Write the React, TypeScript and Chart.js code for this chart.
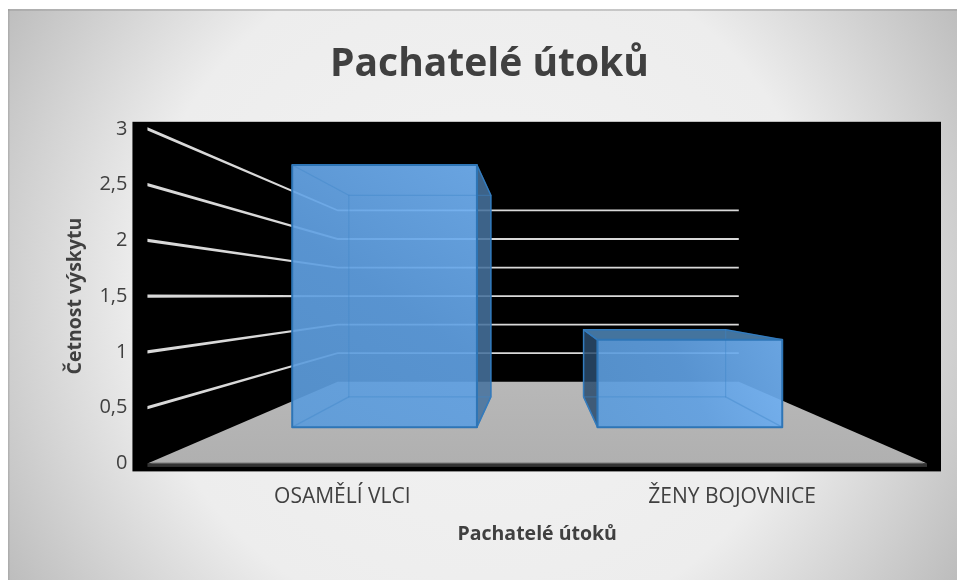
import React, { useEffect, useRef } from "react";
import { Chart, registerables } from "chart.js";

Chart.register(...registerables);

const chartTitle = "Pachatelé útoků";
const xAxisTitle = "Pachatelé útoků";
const yAxisTitle = "Četnost výskytu";
const categories = ["OSAMĚLÍ VLCI", "ŽENY BOJOVNICE"];
const frequency = [3, 1];

const FONT = "'Open Sans', sans-serif";
const TEXT = "#404040";
const DEPTH_SCALE = 0.488; // how much the back wall shrinks
const BAR_FRONT = 0.444;
const BAR_BACK = 0.815;

const scene3d = {
  id: "scene3d",
  beforeDraw(chart: any) {
    const { ctx, width, height, chartArea: a, scales } = chart;
    const L = 8, T = 9;
    const g = ctx.createRadialGradient(482, 290, 0, 482, 290, 555);
    g.addColorStop(0, "#f3f3f3");
    g.addColorStop(0.62, "#ededed");
    g.addColorStop(1, "#bdbdbd");
    ctx.save();
    ctx.fillStyle = "#ffffff";
    ctx.fillRect(0, 0, width, height);
    ctx.fillStyle = g;
    ctx.fillRect(L, T, width - L, height - T);
    ctx.fillStyle = "rgba(150,150,150,0.45)";
    ctx.fillRect(L, T, width - L, 2);
    ctx.fillRect(L, T, 1.5, height - T);
    // black plot background
    ctx.fillStyle = "#000000";
    ctx.fillRect(a.left - 15, a.top - 7, a.right - a.left + 29, a.bottom - a.top + 15);

    const y = scales.y;
    const proj = (xp: number, yp: number, t: number) => {
      const s = 1 - DEPTH_SCALE * t;
      const cx = (a.left + a.right) / 2;
      const cy = y.getPixelForValue(1.5);
      return { x: cx + (xp - cx) * s, y: cy + (yp - cy) * s };
    };
    // gridlines: side wall + back wall
    for (const tick of y.ticks) {
      if (tick.value === 0) continue;
      const yp = y.getPixelForValue(tick.value);
      const f = proj(a.left, yp, 0);
      const b = proj(a.left, yp, 1);
      const e = proj(a.right, yp, 1);
      ctx.fillStyle = "#d9d9d9";
      ctx.beginPath();
      ctx.moveTo(f.x, f.y - 1.6);
      ctx.lineTo(b.x, b.y - 0.9);
      ctx.lineTo(e.x + 2, e.y - 0.9);
      ctx.lineTo(e.x + 2, e.y + 0.9);
      ctx.lineTo(b.x, b.y + 0.9);
      ctx.lineTo(f.x, f.y + 1.6);
      ctx.closePath();
      ctx.fill();
    }
    // floor
    const yb = y.getPixelForValue(0);
    const fl = proj(a.left, yb, 0), fr = proj(a.right, yb, 0);
    const bl = proj(a.left, yb, 1), br = proj(a.right, yb, 1);
    const fg = ctx.createLinearGradient(0, bl.y, 0, fl.y);
    fg.addColorStop(0, "#b8b8b8");
    fg.addColorStop(1, "#b0b0b0");
    ctx.fillStyle = fg;
    ctx.beginPath();
    ctx.moveTo(fl.x, fl.y);
    ctx.lineTo(bl.x, bl.y);
    ctx.lineTo(br.x + 2, br.y);
    ctx.lineTo(fr.x, fr.y);
    ctx.closePath();
    ctx.fill();
    ctx.fillStyle = "#333333";
    ctx.fillRect(fl.x, fl.y, fr.x - fl.x, 3.5);
    ctx.fillStyle = "#6c6c6c";
    ctx.fillRect(fl.x + 4, fl.y - 0.8, fr.x - fl.x - 8, 1);
    ctx.restore();
  },
  beforeDatasetDraw(chart: any, args: any) {
    const { ctx, chartArea: a, scales } = chart;
    const y = scales.y;
    const cx = (a.left + a.right) / 2;
    const cy = y.getPixelForValue(1.5);
    const proj = (xp: number, yp: number, t: number) => {
      const s = 1 - DEPTH_SCALE * t;
      return [cx + (xp - cx) * s, cy + (yp - cy) * s] as [number, number];
    };
    const poly = (pts: [number, number][], fill: any, stroke?: string | null, lw = 1.5) => {
      ctx.beginPath();
      pts.forEach((p, i) => (i ? ctx.lineTo(p[0], p[1]) : ctx.moveTo(p[0], p[1])));
      ctx.closePath();
      if (fill) {
        ctx.fillStyle = fill;
        ctx.fill();
      }
      if (stroke) {
        ctx.strokeStyle = stroke;
        ctx.lineWidth = lw;
        ctx.lineJoin = "round";
        ctx.stroke();
      }
    };
    ctx.save();
    for (const el of args.meta.data) {
      const { x, y: top, base, width } = el.getProps(["x", "y", "base", "width"], true);
      const l = x - width / 2, r = x + width / 2;
      const fTL = proj(l, top, BAR_FRONT), fTR = proj(r, top, BAR_FRONT);
      const fBL = proj(l, base, BAR_FRONT), fBR = proj(r, base, BAR_FRONT);
      const bTL = proj(l, top, BAR_BACK), bTR = proj(r, top, BAR_BACK);
      const bBL = proj(l, base, BAR_BACK), bBR = proj(r, base, BAR_BACK);
      const edge = "#2e75b6";
      // near-side visible faces
      if (x < cx) {
        poly([fTR, bTR, bBR, fBR], "rgba(70,114,157,0.87)", edge);
      } else {
        poly([fTL, bTL, bBL, fBL], "rgba(42,75,108,0.85)", edge);
      }
      if (fTL[1] > cy) {
        poly([fTL, fTR, bTR, bTL], "rgba(70,120,163,0.97)", edge);
      }
      // front face
      const g = ctx.createLinearGradient(fBL[0], fBL[1], fTR[0], fTR[1]);
      g.addColorStop(0, "rgba(91,155,218,0.92)");
      g.addColorStop(0.5, "rgba(96,160,226,0.92)");
      g.addColorStop(1, "rgba(114,178,244,0.92)");
      poly([fTL, fTR, fBR, fBL], g);
      // inner box edges seen through the front
      ctx.globalAlpha = 0.42;
      poly([bTL, bTR, bBR, bBL], null, "#3f86c8", 1.2);
      for (const [p, q] of [[fTL, bTL], [fTR, bTR], [fBL, bBL], [fBR, bBR]] as any) {
        poly([p, q], null, "#3f86c8", 1.2);
      }
      ctx.globalAlpha = 1;
      poly([fTL, fTR, fBR, fBL], null, edge, 2);
    }
    ctx.restore();
    return false;
  },
};

export default function App() {
  const ref = useRef<HTMLCanvasElement>(null);
  useEffect(() => {
    const chart = new Chart(ref.current!, {
      type: "bar",
      data: {
        labels: categories,
        datasets: [
          {
            label: chartTitle,
            data: frequency,
            backgroundColor: "#5b9bd5",
            borderColor: "#2e75b6",
            barPercentage: 0.605,
            categoryPercentage: 1,
          },
        ],
      },
      options: {
        responsive: false,
        animation: false,
        layout: { padding: { left: 52, right: 30, top: 41, bottom: 34 } },
        plugins: {
          legend: { display: false },
          tooltip: { enabled: false },
          title: {
            display: true,
            text: chartTitle,
            color: TEXT,
            font: { family: FONT, size: 39, weight: "bold" },
            padding: { top: 0, bottom: 41 },
          },
        },
        scales: {
          x: {
            grid: { display: false, drawTicks: false },
            border: { display: false },
            ticks: { color: TEXT, padding: 21, font: { family: FONT, size: 21 } },
            title: {
              display: true,
              text: xAxisTitle,
              color: TEXT,
              font: { family: FONT, size: 19.5, weight: "bold" },
              padding: { top: -8, bottom: 0 },
            },
          },
          y: {
            min: 0,
            max: 3,
            grid: { display: false, drawTicks: false },
            border: { display: false },
            ticks: {
              stepSize: 0.5,
              color: TEXT,
              padding: 20,
              font: { family: FONT, size: 20 },
              callback: (v: any) => String(v).replace(".", ","),
            },
            title: {
              display: true,
              text: yAxisTitle,
              color: TEXT,
              font: { family: FONT, size: 19.5, weight: "bold" },
              padding: { top: 12, bottom: -8 },
            },
          },
        },
      },
      plugins: [scene3d],
    } as any);
    return () => chart.destroy();
  }, []);
  return (
    <div style={{ position: "absolute", left: 0, top: 0, width: 957, height: 580, overflow: "hidden" }}>
      <canvas ref={ref} width={957} height={580} style={{ display: "block" }} />
    </div>
  );
}
